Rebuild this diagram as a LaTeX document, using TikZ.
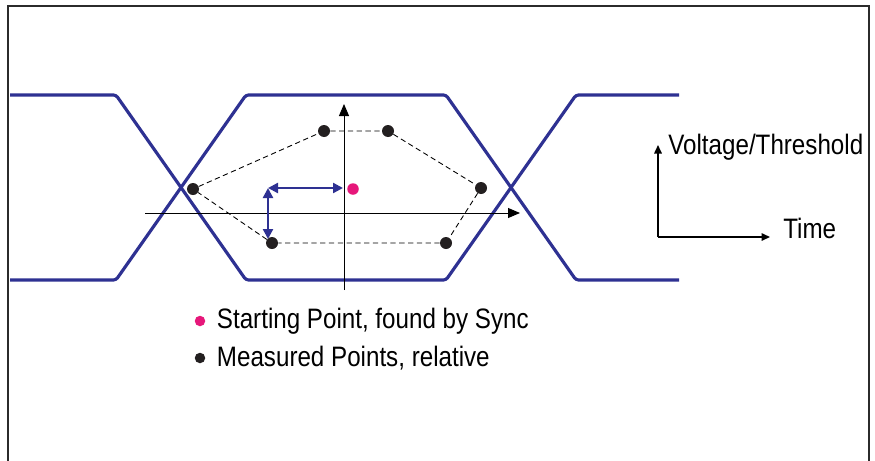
\documentclass[tikz,border=0pt]{standalone}
\usepackage{fontspec}
\setmainfont[FakeStretch=0.86]{Liberation Sans}
\usetikzlibrary{arrows.meta,positioning,calc}
\definecolor{eyeblue}{HTML}{2E3192}
\definecolor{syncpink}{HTML}{E6177A}
\definecolor{dotgrey}{HTML}{231F20}
\definecolor{framegrey}{HTML}{2B2B2B}

\begin{document}
\begin{tikzpicture}[
  x=0.02cm, y=-0.02cm,
  font=\fontsize{16}{18}\selectfont,
  >={Triangle[length=2.4mm,width=2mm]},
  eye/.style={eyeblue, line width=1.8pt, rounded corners=1.5pt},
  axis/.style={->, black, line width=0.5pt},
  refaxis/.style={->, black, line width=0.9pt, >={Triangle[length=1.7mm,width=1.5mm]}},
  mpt/.style={circle, fill=dotgrey, inner sep=0pt, minimum size=2.4mm},
  spt/.style={circle, fill=syncpink, inner sep=0pt, minimum size=2.3mm},
  hull/.style={black, line width=0.5pt, dash pattern=on 3pt off 2pt},
  shiftarr/.style={<->, eyeblue, line width=1.3pt, >={Triangle[length=2mm,width=2mm]}},
  lbl/.style={anchor=west, inner sep=0pt},
]
\useasboundingbox (0,0) rectangle (875,460);

% --- Frame (open at the bottom) ---
\draw[framegrey, line width=1.4pt] (8,475) -- (8,6) -- (869,6) -- (869,475);

% --- Eye diagram ---
\draw[eye] (10,95) -- (116,95) -- (246,280) -- (446,280) -- (576,95) -- (679,95);
\draw[eye] (10,280) -- (116,280) -- (246,95) -- (446,95) -- (576,280) -- (679,280);

% --- Axes through the eye ---
\coordinate (xstart) at (145,213);
\coordinate (xend)   at (520,213);
\coordinate (ystart) at (344,290);
\coordinate (yend)   at (344,104);
\draw[axis] (xstart) -- (xend);
\draw[axis] (ystart) -- (yend);

% --- Measured points and their hull ---
\node[mpt] (m1) at (193,189) {};
\node[mpt] (m2) at (324,131) {};
\node[mpt] (m3) at (388,131) {};
\node[mpt] (m4) at (481,188) {};
\node[mpt] (m5) at (446,243) {};
\node[mpt] (m6) at (272,243) {};
\draw[hull] (m1) -- (m2) -- (m3) -- (m4) -- (m5) -- (m6) -- (m1);

% --- Starting point and offsets ---
\node[spt] (start) at (353,189) {};
\coordinate (corner) at (268,188);
\coordinate (hend)   at (343,188);
\coordinate (vend)   at (268,239);
\draw[shiftarr] (corner) -- (hend);
\draw[shiftarr] (corner) -- (vend);

% --- Legend ---
\node[spt, minimum size=2.1mm] (lstart) at (200,321) {};
\node[lbl, right=2.2mm of lstart] (tstart) {Starting Point, found by Sync};
\node[mpt, minimum size=2.1mm] (lmeas) at (200,358) {};
\node[lbl, right=2.2mm of lmeas] (tmeas) {Measured Points, relative};

% --- Reference axes ---
\coordinate (orig)  at (658,237);
\coordinate (vtop)  at (658,145);
\coordinate (tright) at (770,237);
\draw[refaxis] (orig) -- (vtop);
\draw[refaxis] (orig) -- (tright);
\node[lbl] (tvolt) at (668,147) {Voltage/Threshold};
\node[lbl] (ttime) at (783,228) {Time};

\end{tikzpicture}
\end{document}
